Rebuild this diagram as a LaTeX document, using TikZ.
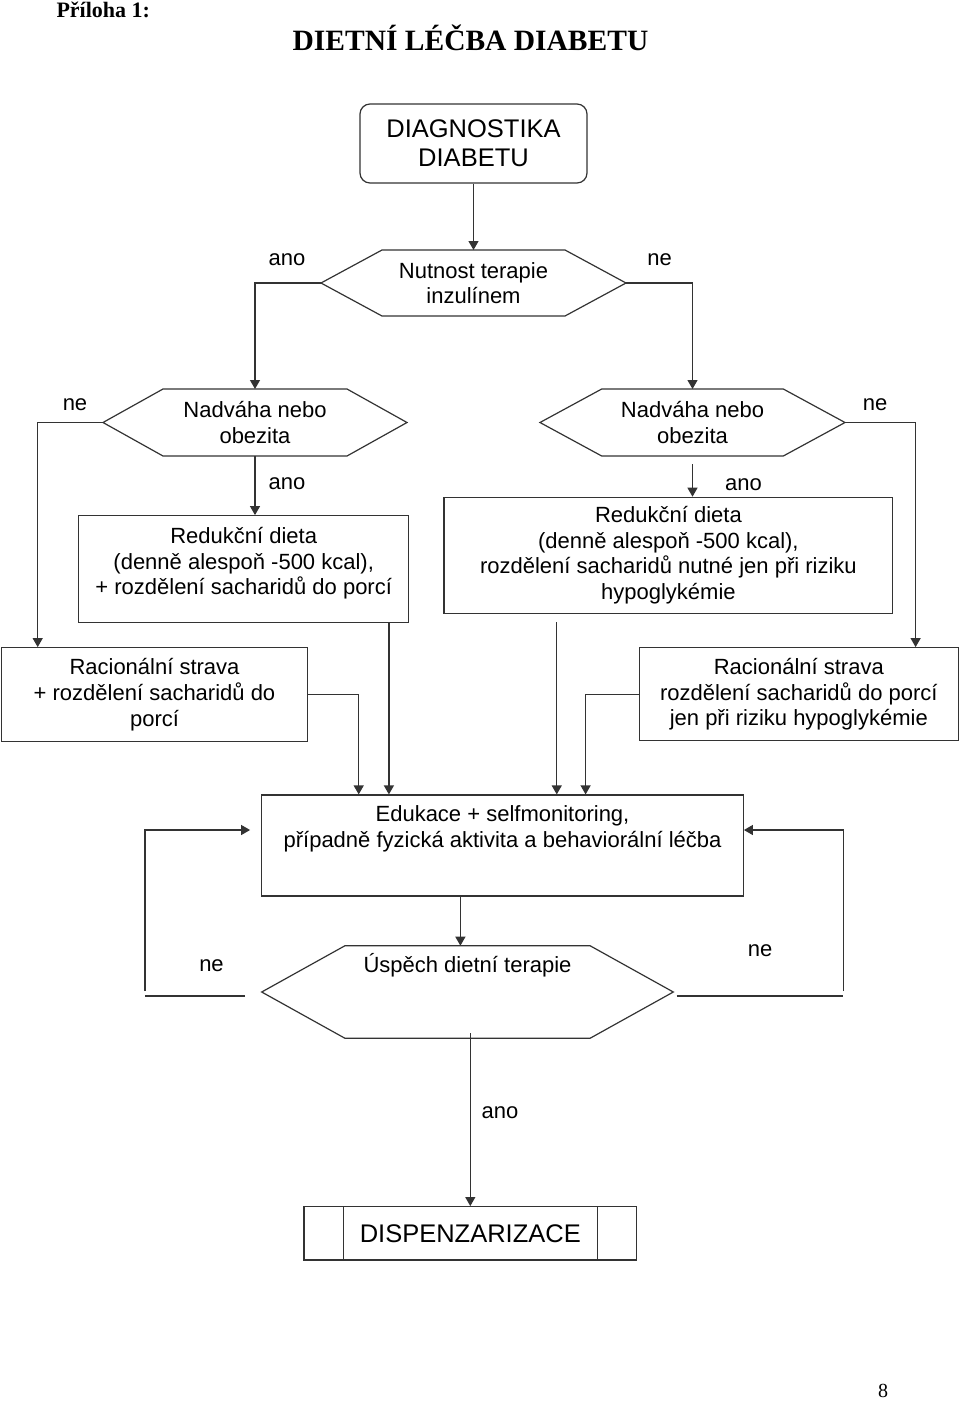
\documentclass[tikz,border=0pt]{standalone}
\usepackage{fontspec}
\setmainfont{Liberation Serif}
\setsansfont{Liberation Sans}
\usetikzlibrary{arrows.meta,calc}

\newcommand{\diagfont}{\sffamily\fontsize{22}{25.6}\selectfont}
\newcommand{\bigfont}{\sffamily\fontsize{25.5}{29}\selectfont}
\newcommand{\titlefont}{\rmfamily\bfseries\fontsize{29.5}{35}\selectfont}
\newcommand{\prilfont}{\rmfamily\bfseries\fontsize{22}{26}\selectfont}
\newcommand{\pagefont}{\rmfamily\fontsize{20}{24}\selectfont}

\tikzset{
  box/.style={draw=black!80, line width=1.2pt, align=center, inner sep=0pt},
  hexa/.style={align=center, inner sep=0pt, outer sep=0pt},
  conn/.style={draw=black!80, line width=1.2pt},
  arr/.style={conn, -{Triangle[length=9pt,width=10pt]}},
  lbl/.style={anchor=base}
}

\begin{document}
\begin{tikzpicture}[x=1pt, y=-1pt, every node/.style={font=\diagfont}]
    \useasboundingbox (0,0) rectangle (960,1403);

    % Headings
    \node[anchor=base west, font=\prilfont] (pril) at (53,17) {Příloha 1:};
    \node[anchor=base, font=\titlefont] (title) at (470.5,50) {DIETNÍ LÉČBA DIABETU};
    \node[anchor=base, font=\pagefont] (page) at (883,1397.5) {8};

    % Boxes
    \node[box, rounded corners=10pt, minimum width=227pt, minimum height=79pt, font=\bigfont]
        (diag) at (473.5,143.5) {DIAGNOSTIKA\\DIABETU};
    \node[box, minimum width=330pt, minimum height=106.6pt] (redL) at (243.7,569)
        {Redukční dieta\\(denně alespoň -500 kcal),\\+ rozdělení sacharidů do porcí\\[-9.6pt]\mbox{}};
    \node[box, minimum width=448.7pt, minimum height=116pt] (redR) at (668.4,555.3)
        {Redukční dieta\\(denně alespoň -500 kcal),\\rozdělení sacharidů nutné jen při riziku\\hypoglykémie};
    \node[box, minimum width=305.6pt, minimum height=94pt] (racL) at (154.5,694.7)
        {Racionální strava\\+ rozdělení sacharidů do\\porcí};
    \node[box, minimum width=319pt, minimum height=93pt] (racR) at (798.8,694.2)
        {Racionální strava\\rozdělení sacharidů do porcí\\jen při riziku hypoglykémie};
    \node[box, minimum width=481.6pt, minimum height=101pt] (edu) at (502.5,845.5)
        {Edukace + selfmonitoring,\\případně fyzická aktivita a behaviorální léčba\\[12pt]\mbox{}};
    \node[box, minimum width=332.7pt, minimum height=53.3pt, font=\bigfont] (disp) at (470.3,1233.3)
        {DISPENZARIZACE};
    \draw[conn] ([xshift=40.3pt]disp.north west) -- ([xshift=40.3pt]disp.south west);
    \draw[conn] ([xshift=-40pt]disp.north east) -- ([xshift=-40pt]disp.south east);

    % Decisions
    \node[hexa, minimum width=305pt, minimum height=66pt] (inz) at (473.5,283) {Nutnost terapie\\inzulínem};
    \node[hexa, minimum width=304pt, minimum height=67pt] (nadL) at (255,422.5) {Nadváha nebo\\obezita};
    \node[hexa, minimum width=305pt, minimum height=67pt] (nadR) at (692.5,422.5) {Nadváha nebo\\obezita};
    \node[hexa, minimum width=411.6pt, minimum height=92.6pt] (usp) at (467.5,992)
        {Úspěch dietní terapie\\[31.8pt]\mbox{}};
    \foreach \n/\d in {inz/61, nadL/60, nadR/61.7, usp/83.3}
        \draw[conn] (\n.west) -- ([xshift=\d pt]\n.north west) -- ([xshift=-\d pt]\n.north east)
            -- (\n.east) -- ([xshift=-\d pt]\n.south east) -- ([xshift=\d pt]\n.south west) -- cycle;

    % Labels
    \node[lbl] (anoA) at (287,265) {ano};
    \node[lbl] (neA) at (659.5,265) {ne};
    \node[lbl] (neB) at (75,410) {ne};
    \node[lbl] (anoB) at (287,489) {ano};
    \node[lbl] (anoC) at (743.5,490) {ano};
    \node[lbl] (neC) at (875,410) {ne};
    \node[lbl] (neD) at (211.5,971.7) {ne};
    \node[lbl] (neE) at (760,956) {ne};
    \node[lbl] (anoD) at (500,1118.3) {ano};

    % Connectors
    \coordinate (redLout) at ([xshift=-20.4pt]redL.south east);
    \coordinate (redRout) at ([xshift=113.3pt, yshift=-8.4pt]redR.south west);
    \coordinate (racLin) at ([xshift=97.6pt]edu.north west);
    \coordinate (racRin) at ([xshift=324.5pt]edu.north west);
    \coordinate (eduOut) at ([xshift=199.3pt]edu.south west);
    \coordinate (uspOut) at (disp.north |- usp.south);
    \coordinate (loopL) at (145,996);
    \coordinate (loopR) at (843.3,996);

    \draw[arr] (diag.south) -- (inz.north);
    \draw[arr] (inz.west) -| (nadL.north);
    \draw[arr] (inz.east) -| (nadR.north);
    \draw[arr] (nadL.west) -| ([xshift=36.6pt]racL.north west);
    \draw[arr] (nadL.south) -- (nadL.south |- redL.north);
    \draw[arr] (nadR.east) -| ([xshift=-43.3pt]racR.north east);
    \draw[arr] ([yshift=-8pt]nadR.south) -- (nadR.south |- redR.north);
    \draw[arr] (redLout) -- (redLout |- edu.north);
    \draw[arr] (redRout) -- (redRout |- edu.north);
    \draw[arr] (racL.east) -| (racLin);
    \draw[arr] (racR.west) -| (racRin);
    \draw[arr] (eduOut) -- (eduOut |- usp.north);

    % Loops back
    \draw[conn] ([xshift=-16.7pt, yshift=-4pt]usp.west) -- (loopL);
    \draw[arr] ([yshift=5pt]loopL) |- ([xshift=-11pt, yshift=15.5pt]edu.west);
    \draw[conn] ([xshift=3.4pt, yshift=-4pt]usp.east) -- (loopR);
    \draw[arr] ([yshift=5pt]loopR) |- ([yshift=15.5pt]edu.east);

    \draw[arr] ([yshift=5pt]uspOut) -- (disp.north);
\end{tikzpicture}
\end{document}
